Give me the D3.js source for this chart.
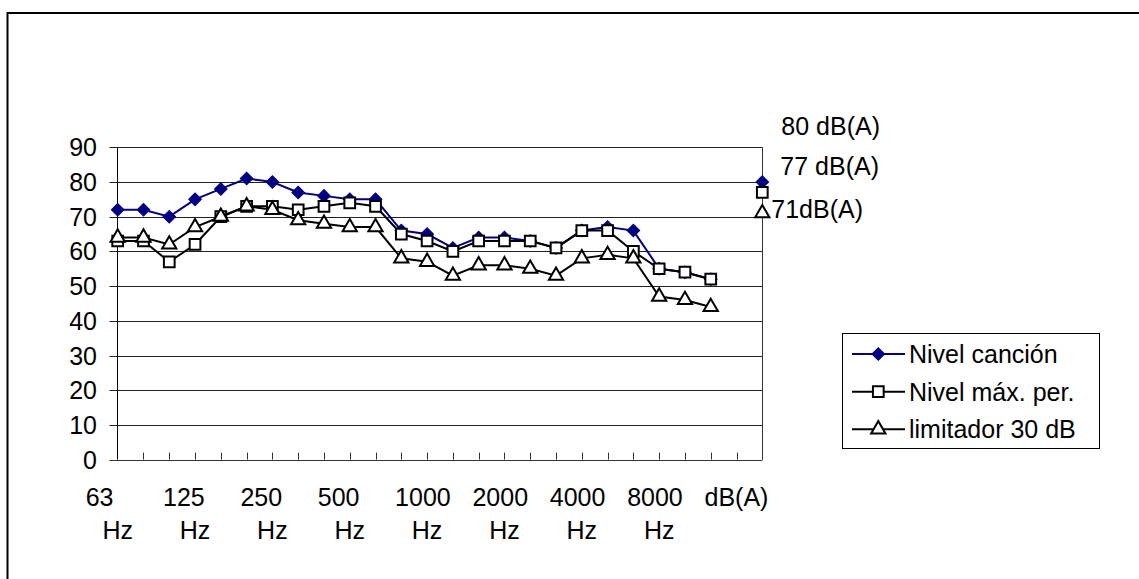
<!DOCTYPE html>
<html>
<head>
<meta charset="utf-8">
<script src="https://cdn.jsdelivr.net/npm/d3@7"></script>
<style>
  body { margin: 0; background: #fff; }
  text { font-family: "Liberation Sans", Arial, sans-serif; font-size: 25px; fill: #000; }
</style>
</head>
<body>
<div id="chart"></div>
<script>
// third-octave bands, every 3rd one gets a label; last slot is the overall dB(A)
const categories = ["63 Hz", "80 Hz", "100 Hz", "125 Hz", "160 Hz", "200 Hz", "250 Hz", "315 Hz",
  "400 Hz", "500 Hz", "630 Hz", "800 Hz", "1000 Hz", "1250 Hz", "1600 Hz", "2000 Hz", "2500 Hz",
  "3150 Hz", "4000 Hz", "5000 Hz", "6300 Hz", "8000 Hz", "10000 Hz", "12500 Hz", "dB(A)", ""];
const nivelCancion = [72, 72, 70, 75, 78, 81, 80, 77, 76, 75, 75, 66, 65, 61, 64, 64, 63, 61, 66, 67, 66, 55, 54, 52, null, 80];
const nivelMax = [63, 63, 57, 62, 70, 73, 73, 72, 73, 74, 73, 65, 63, 60, 63, 63, 63, 61, 66, 66, 60, 55, 54, 52, null, 77];
const limitador = [64, 64, 62, 67, 70, 73, 72, 69, 68, 67, 67, 58, 57, 53, 56, 56, 55, 53, 58, 59, 58, 47, 46, 44, null, 71];
const seriesNames = ["Nivel canción", "Nivel máx. per.", "limitador 30 dB"];
const totalLabels = ["80 dB(A)", "77 dB(A)", "71dB(A)"];
const yTicks = [0, 10, 20, 30, 40, 50, 60, 70, 80, 90];

const WIDTH = 1139, HEIGHT = 579;

const svg = d3.select("#chart").append("svg")
  .attr("width", WIDTH)
  .attr("height", HEIGHT);

// outer frame (only top and left edges show in the picture)
svg.append("path")
  .attr("d", "M7.5,579 V13 H1139")
  .attr("fill", "none")
  .attr("stroke", "#000")
  .attr("stroke-width", 2);

const x = d3.scalePoint().domain(d3.range(categories.length)).range([117.7, 762.3]);
const y = d3.scaleLinear().domain([0, 90]).range([459.6, 147.3]);

// gridlines + y ticks
const grid = svg.append("g");
grid.selectAll("line")
  .data(yTicks)
  .enter().append("line")
  .attr("x1", 109.5)
  .attr("x2", 762.3)
  .attr("y1", d => Math.round(y(d)) + 0.5)
  .attr("y2", d => Math.round(y(d)) + 0.5)
  .attr("stroke", d => d === 0 ? "#333" : "#222")
  .attr("stroke-width", 1);

grid.selectAll("text")
  .data(yTicks)
  .enter().append("text")
  .attr("x", 97)
  .attr("y", d => y(d) + 9)
  .attr("text-anchor", "end")
  .text(d => d);

// y axis line and right border of plot area
svg.append("line")
  .attr("x1", 117.5).attr("x2", 117.5)
  .attr("y1", y(90)).attr("y2", y(0))
  .attr("stroke", "#000");
svg.append("line")
  .attr("x1", 762.5).attr("x2", 762.5)
  .attr("y1", y(90)).attr("y2", y(0))
  .attr("stroke", "#333");

// category ticks, pointing up into the plot
svg.append("g").selectAll("line")
  .data(d3.range(1, categories.length))
  .enter().append("line")
  .attr("x1", d => Math.round(x(d)) + 0.5)
  .attr("x2", d => Math.round(x(d)) + 0.5)
  .attr("y1", y(0) - 7)
  .attr("y2", y(0))
  .attr("stroke", "#333");

// category labels, wrapped in two lines
const xl = svg.append("g").selectAll("text")
  .data(d3.range(categories.length).filter(i => i % 3 === 0))
  .enter().append("text");
xl.each(function(i) {
  const parts = categories[i].split(" ");
  const t = d3.select(this);
  t.append("tspan")
    .attr("x", x(i) - 32)
    .attr("y", 506)
    .text(parts[0]);
  if (parts[1]) {
    t.append("tspan")
      .attr("x", x(i))
      .attr("y", 539)
      .attr("text-anchor", "middle")
      .text(parts[1]);
  }
});

const line = d3.line()
  .defined(d => d != null)
  .x((d, i) => x(i))
  .y(d => y(d));

const series = [
  { name: seriesNames[0], values: nivelCancion, color: "#000080", symbol: d3.symbolSquare, size: 80, rotate: 45, fill: "#000080" },
  { name: seriesNames[1], values: nivelMax, color: "#000", symbol: d3.symbolSquare, size: 115, rotate: 0, fill: "#fff" },
  { name: seriesNames[2], values: limitador, color: "#000", symbol: d3.symbolTriangle, size: 88, rotate: 0, fill: "#fff" }
];

series.forEach(s => {
  const g = svg.append("g");
  g.append("path")
    .attr("d", line(s.values))
    .attr("fill", "none")
    .attr("stroke", s.color)
    .attr("stroke-width", 2);
  g.selectAll("path.m")
    .data(s.values.map((v, i) => ({ v, i })).filter(d => d.v != null))
    .enter().append("path")
    .attr("class", "m")
    .attr("d", d3.symbol().type(s.symbol).size(s.size))
    .attr("transform", d => `translate(${x(d.i)},${y(d.v)}) rotate(${s.rotate})`)
    .attr("fill", s.fill)
    .attr("stroke", s.color)
    .attr("stroke-width", s.fill === "#fff" ? 2 : 1);
});

// overall level labels next to the dB(A) points
const last = categories.length - 1;
const labelOffsets = [[19, -47], [18, -17], [9, 5]];
svg.append("g").selectAll("text")
  .data(series)
  .enter().append("text")
  .attr("x", (s, k) => x(last) + labelOffsets[k][0])
  .attr("y", (s, k) => y(s.values[last]) + labelOffsets[k][1])
  .text((s, k) => totalLabels[k]);

// legend
const legend = svg.append("g");
legend.append("rect")
  .attr("x", 842.5).attr("y", 333.5)
  .attr("width", 257).attr("height", 115)
  .attr("fill", "#fff")
  .attr("stroke", "#000");
const rowY = [354, 391.7, 429.3];
series.forEach((s, k) => {
  legend.append("line")
    .attr("x1", 852).attr("x2", 905)
    .attr("y1", rowY[k]).attr("y2", rowY[k])
    .attr("stroke", s.color)
    .attr("stroke-width", 2);
  legend.append("path")
    .attr("d", d3.symbol().type(s.symbol).size(s.size))
    .attr("transform", `translate(878.3,${rowY[k]}) rotate(${s.rotate})`)
    .attr("fill", s.fill)
    .attr("stroke", s.color)
    .attr("stroke-width", s.fill === "#fff" ? 2 : 1);
  legend.append("text")
    .attr("x", 909)
    .attr("y", rowY[k] + 9)
    .text(s.name);
});
</script>
</body>
</html>
